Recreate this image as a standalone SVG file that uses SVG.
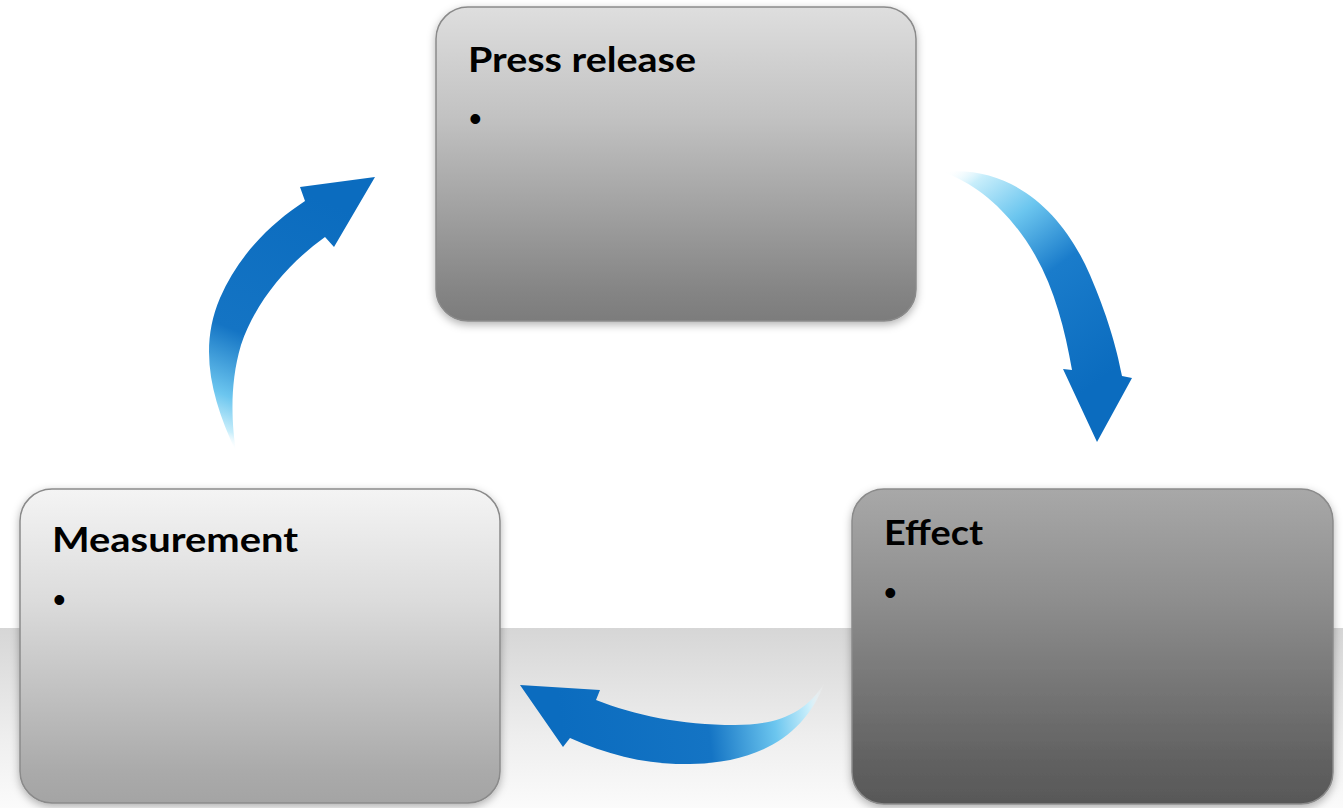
<svg xmlns="http://www.w3.org/2000/svg" width="1343" height="808" viewBox="0 0 1343 808">
  <style>
    .box { stroke: #8a8a8a; stroke-width: 1.5; filter: url(#shadow); }
    .title { font-family: Lato, "Open Sans", "Liberation Sans", sans-serif; font-weight: bold; font-size: 34px; fill: #000; }
    .bullet { font-family: "Liberation Sans", Arial, sans-serif; font-size: 36px; fill: #000; }
  </style>
  <defs>
    <filter id="shadow" x="-10%" y="-10%" width="120%" height="125%">
      <feDropShadow dx="0" dy="3" stdDeviation="4" flood-color="#000" flood-opacity="0.3"/>
    </filter>
    <linearGradient id="band" x1="0" y1="0" x2="0" y2="1">
      <stop offset="0" stop-color="#d6d6d6"/>
      <stop offset="0.6" stop-color="#eeeeee"/>
      <stop offset="1" stop-color="#fbfbfb"/>
    </linearGradient>
    <linearGradient id="gPress" x1="0" y1="0" x2="0" y2="1">
      <stop offset="0" stop-color="#dedede"/>
      <stop offset="0.35" stop-color="#c2c2c2"/>
      <stop offset="0.9" stop-color="#858585"/>
      <stop offset="1" stop-color="#7c7c7c"/>
    </linearGradient>
    <linearGradient id="gMeas" x1="0" y1="0" x2="0" y2="1">
      <stop offset="0" stop-color="#f4f4f4"/>
      <stop offset="0.35" stop-color="#dcdcdc"/>
      <stop offset="0.9" stop-color="#aaaaaa"/>
      <stop offset="1" stop-color="#a4a4a4"/>
    </linearGradient>
    <linearGradient id="gEff" x1="0" y1="0" x2="0" y2="1">
      <stop offset="0" stop-color="#a8a8a8"/>
      <stop offset="0.35" stop-color="#8e8e8e"/>
      <stop offset="0.9" stop-color="#5e5e5e"/>
      <stop offset="1" stop-color="#585858"/>
    </linearGradient>
    <linearGradient id="aLeft" gradientUnits="userSpaceOnUse" x1="335" y1="205" x2="232" y2="450">
      <stop offset="0" stop-color="#0b6cbf"/>
      <stop offset="0.58" stop-color="#1474c4"/>
      <stop offset="0.82" stop-color="#6cc6ef"/>
      <stop offset="0.94" stop-color="#c8eefb"/>
      <stop offset="1" stop-color="#ffffff" stop-opacity="0"/>
    </linearGradient>
    <linearGradient id="aRight" gradientUnits="userSpaceOnUse" x1="945" y1="172" x2="1100" y2="380">
      <stop offset="0" stop-color="#ffffff" stop-opacity="0"/>
      <stop offset="0.1" stop-color="#c8eefb"/>
      <stop offset="0.3" stop-color="#6cc6ef"/>
      <stop offset="0.55" stop-color="#1a7ccb"/>
      <stop offset="1" stop-color="#0b6cbf"/>
    </linearGradient>
    <linearGradient id="aBottom" gradientUnits="userSpaceOnUse" x1="560" y1="720" x2="825" y2="690">
      <stop offset="0" stop-color="#0b6cbf"/>
      <stop offset="0.55" stop-color="#1474c4"/>
      <stop offset="0.8" stop-color="#6cc6ef"/>
      <stop offset="0.93" stop-color="#c8eefb"/>
      <stop offset="1" stop-color="#ffffff" stop-opacity="0"/>
    </linearGradient>
  </defs>

  <!-- page background and floor band -->
  <rect x="0" y="0" width="1343" height="808" fill="#ffffff"/>
  <rect x="0" y="628" width="1343" height="180" fill="url(#band)"/>

  <!-- curved cycle arrows -->
  <g id="connectors">
    <!-- Measurement -> Press release -->
    <path fill="url(#aLeft)" d="M 236 452
      C 212 400, 198 350, 220 298
      C 238 256, 270 224, 305 201
      L 300 187 L 375 177 L 334 247 L 325 237
      C 290 262, 256 300, 241 345
      C 229 385, 232 425, 236 452 Z"/>
    <!-- Press release -> Effect -->
    <path fill="url(#aRight)" d="M 943 172
      C 1010 165, 1062 210, 1090 275
      C 1107 315, 1116 345, 1122 376
      L 1132 378 L 1097 442 L 1063 369 L 1072 370
      C 1065 330, 1055 290, 1035 255
      C 1012 215, 980 185, 943 172 Z"/>
    <!-- Effect -> Measurement -->
    <path fill="url(#aBottom)" d="M 825 682
      C 805 715, 775 725, 735 725
      C 680 725, 635 715, 596 700
      L 600 690 L 520 685 L 563 747 L 570 738
      C 610 756, 650 765, 690 764
      C 760 763, 805 735, 825 682 Z"/>
  </g>

  <g id="node-press-release">
    <rect class="box" x="436" y="7" width="480" height="314" rx="32" ry="32" fill="url(#gPress)"/>
    <text class="title" x="468" y="72" textLength="228" lengthAdjust="spacingAndGlyphs">Press release</text>
    <text class="bullet" x="469" y="131">•</text>
  </g>

  <g id="node-measurement">
    <rect class="box" x="20" y="489" width="480" height="314" rx="32" ry="32" fill="url(#gMeas)"/>
    <text class="title" x="52" y="552" textLength="246" lengthAdjust="spacingAndGlyphs">Measurement</text>
    <text class="bullet" x="53" y="612">•</text>
  </g>

  <g id="node-effect">
    <rect class="box" x="852" y="489" width="481" height="315" rx="32" ry="32" fill="url(#gEff)"/>
    <text class="title" x="884" y="545" textLength="99" lengthAdjust="spacingAndGlyphs">Effect</text>
    <text class="bullet" x="884" y="605">•</text>
  </g>
</svg>
